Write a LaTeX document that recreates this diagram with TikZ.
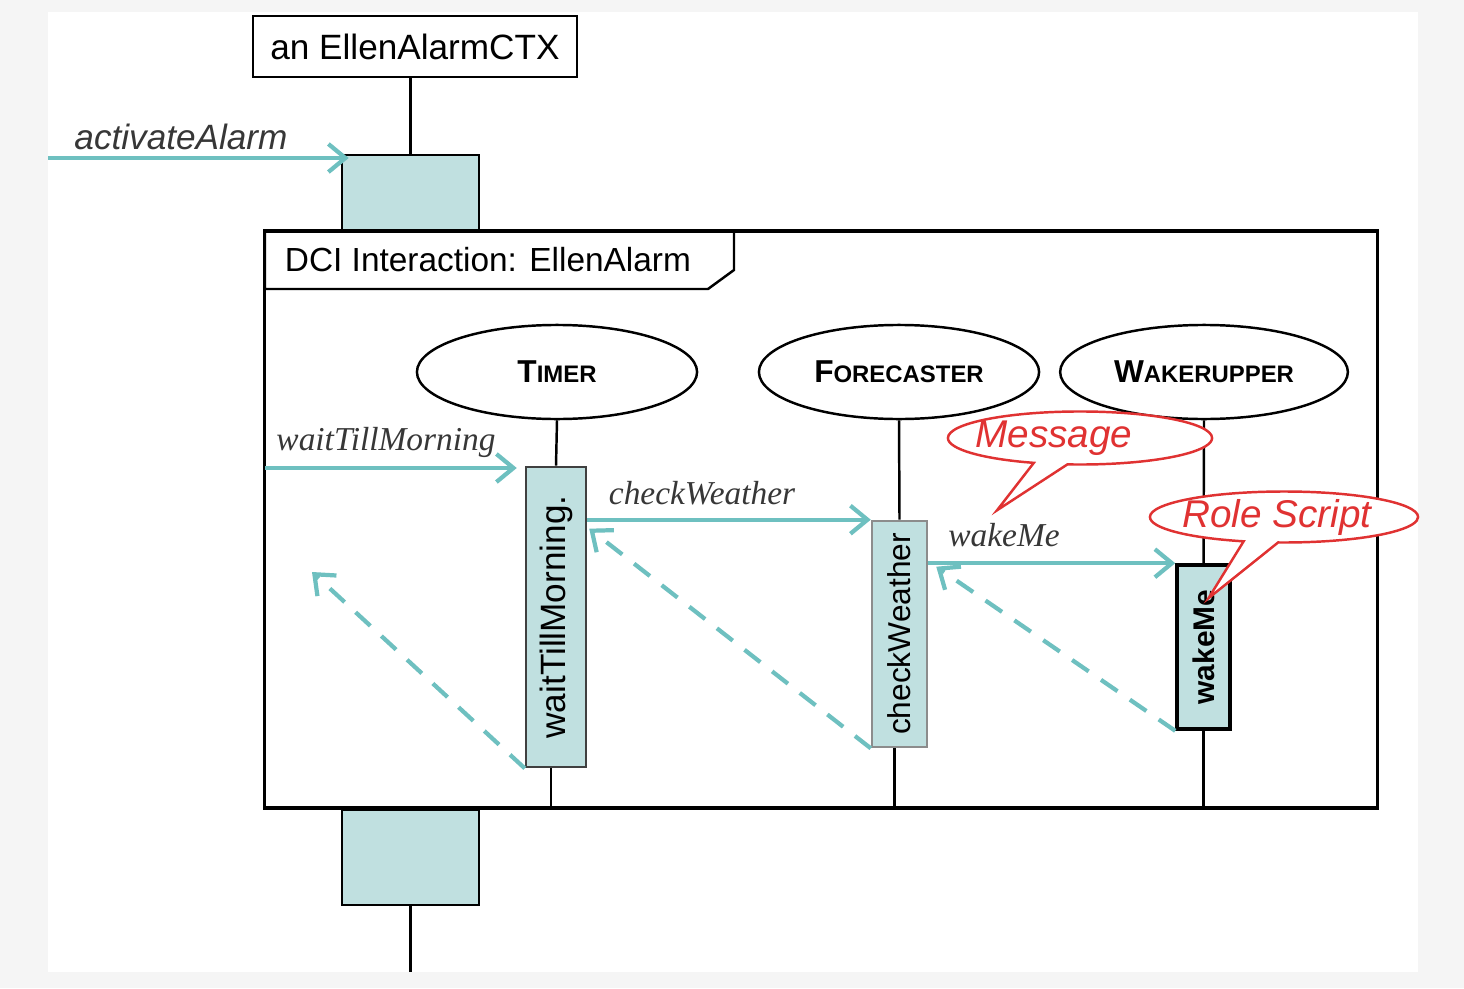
\documentclass[tikz,border=0pt]{standalone}
\usepackage{fontspec}
\setmainfont{Liberation Sans}
\newfontfamily\msgfont{Liberation Serif}
\usepackage{tikz}
\usetikzlibrary{positioning}
\usetikzlibrary{calc}
\usetikzlibrary{shapes.geometric}
\usetikzlibrary{shapes.callouts}
\usetikzlibrary{arrows.meta}
\definecolor{msgteal}{RGB}{110,192,192}
\definecolor{actfill}{RGB}{192,224,224}
\definecolor{notered}{RGB}{224,50,50}
\definecolor{labelgray}{RGB}{55,55,55}
\newcommand{\rolecaps}[2]{#1{\fontsize{6.8}{8}\selectfont #2}}

\begin{document}
\begin{tikzpicture}[x=0.01cm,y=-0.01cm,
  >={Straight Barb[length=1.7mm,width=2.8mm]},
  line width=0.7pt,
  msg/.style={->,draw=msgteal,line width=1.2pt},
  ret/.style={->,draw=msgteal,line width=1.2pt,dash pattern=on 0.2cm off 0.15cm},
  act/.style={draw,fill=actfill,inner sep=0pt},
  role/.style={draw,ellipse,minimum width=2.8cm,minimum height=0.94cm,font=\bfseries\fontsize{9}{11}\selectfont},
  note/.style={ellipse callout,draw=notered,text=notered,fill=white,inner sep=0pt,callout pointer arc=15,font=\itshape\fontsize{11}{13}\selectfont},
  mlabel/.style={text=labelgray,font=\msgfont\itshape\fontsize{9.5}{11}\selectfont}]
            \fill[black!4] (0,0) rectangle (1464,988);
            \fill[white] (48,12) rectangle (1418,972);
            \useasboundingbox (0,0) rectangle (1464,988);
            \node[draw,minimum width=3.24cm,minimum height=0.61cm,font=\fontsize{10}{12}\selectfont] (ctx) at (415,46.5) {an EllenAlarmCTX};
            \node[act,minimum width=1.37cm,minimum height=0.75cm] (topact) at (410.5,192.5) {};
            \node[act,minimum width=1.37cm,minimum height=0.95cm] (botact) at (410.5,857.5) {};
            \coordinate (ctxend) at (410.5,972);
            \draw (topact.north |- ctx.south) -- (topact.north);
            \draw (botact.south) -- (ctxend);
            \coordinate (alarmin) at (48,158);
            \draw[msg] (alarmin) -- ([xshift=0.08cm]topact.west |- alarmin);
            \node[font=\itshape\fontsize{10}{12}\selectfont,text=labelgray] (alarmlbl) at (181,137) {activateAlarm};
            \draw[fill=white] (265,231) -- (734,231) -- (734,270) -- (708,289) -- (265,289) -- cycle;
            \node[draw,line width=1pt,inner sep=0pt,minimum width=11.12cm,minimum height=5.77cm] (frame) at (821,519.5) {};
            \node[anchor=west,font=\fontsize{9.5}{12}\selectfont] (framelbl) at (272,260) {DCI Interaction: EllenAlarm};
            \node[role] (timer) at (557,372) {\rolecaps{T}{IMER}};
            \node[role] (forecaster) at (899,372) {\rolecaps{F}{ORECASTER}};
            \node[role] (wakerupper) at (1204,372) {\rolecaps{W}{AKERUPPER}};
            \node[act,draw=black!75,minimum width=0.6cm,minimum height=3.0cm,font=\fontsize{10}{12}\selectfont] (wtm) at (556,617) {\rotatebox{90}{waitTillMorning.}};
            \node[act,draw=black!45,minimum width=0.55cm,minimum height=2.26cm,font=\fontsize{9}{11}\selectfont] (cw) at (899.5,634) {\rotatebox{90}{checkWeather}};
            \node[act,line width=1pt,minimum width=0.53cm,minimum height=1.64cm,font=\bfseries\fontsize{8.5}{10}\selectfont] (wm) at (1203.5,647) {\rotatebox{90}{wakeMe}};
            \draw (timer.south) -- (wtm.north);
            \draw ([xshift=-0.05cm]wtm.south) -- ([xshift=-0.05cm]wtm.south |- frame.south);
            \draw (forecaster.south) -- (cw.north);
            \draw ([xshift=-0.05cm]cw.south) -- ([xshift=-0.05cm]cw.south |- frame.south);
            \draw (wakerupper.south) -- (wm.north);
            \draw (wm.south) -- (wm.south |- frame.south);
            \coordinate (wtmin) at (265,468);
            \coordinate (retin) at (312,572);
            \draw[msg] (wtmin) -- ([xshift=-0.08cm]wtm.north west |- wtmin);
            \draw[msg] (wtm.north east |- cw.north west) -- (cw.north west);
            \draw[msg] (cw.north east |- wm.north west) -- (wm.north west);
            \draw[ret] (wtm.south west) -- (retin);
            \draw[ret] (cw.south west) -- ($(wtm.north east)+(2,63)$);
            \draw[ret] (wm.south west) -- ($(cw.north east)+(8,47)$);
            \node[mlabel] (wtmlbl) at (386,442) {waitTillMorning};
            \node[mlabel] (cwlbl) at (702,493) {checkWeather};
            \node[mlabel] (wmlbl) at (1004,535) {wakeMe};
            \node[note,minimum width=2.64cm,minimum height=0.53cm,callout absolute pointer={($(wmlbl.north)+(-7,0)$)}] (msgnote) at (1080,438) {\hspace*{-0.52cm}Message};
            \node[note,minimum width=2.68cm,minimum height=0.5cm,callout absolute pointer={($(wm.north)+(5,35)$)}] (scriptnote) at (1284,517) {\hspace*{-0.14cm}Role Script};
        \end{tikzpicture}
\end{document}
